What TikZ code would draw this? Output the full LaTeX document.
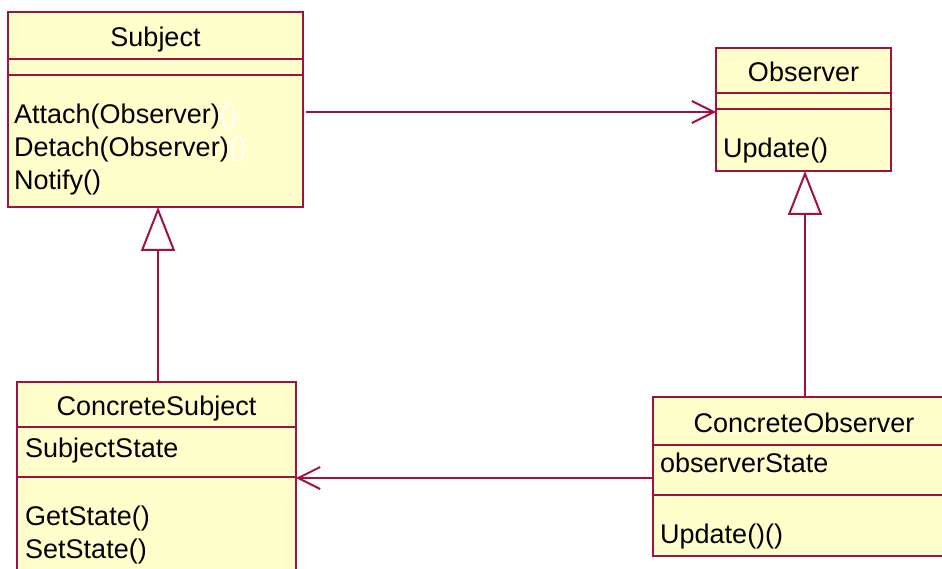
\documentclass[tikz,border=0pt]{standalone}
\usepackage{fontspec}
\setmainfont{Liberation Sans}
\usetikzlibrary{arrows.meta}
\definecolor{umlline}{RGB}{160,18,66}
\definecolor{umlfill}{RGB}{255,255,204}
\newcommand{\umlfont}{\fontsize{27}{32}\selectfont}
\tikzset{
  classbox/.style={draw=umlline, fill=umlfill, line width=2pt, inner sep=0pt, outer sep=0pt},
  divider/.style={draw=umlline, line width=2pt},
  member/.style={anchor=base west, inner sep=0pt, font=\umlfont},
  header/.style={anchor=base, inner sep=0pt, font=\umlfont},
  assoc/.style={draw=umlline, line width=2pt, -{Straight Barb[length=22pt,width=22pt]}},
  inherit/.style={draw=umlline, line width=2pt, -{Triangle[length=44pt,width=34pt,fill=white]}}
}
\begin{document}
\begin{tikzpicture}[x=1pt,y=-1pt]
\fill[white] (0,0) rectangle (942,569);
\clip (0,0) rectangle (942,569);

% Subject
\node[classbox, minimum width=295pt, minimum height=195pt] (subject) at (155.5,109.5) {};
\draw[divider] (subject.west |- 0,59) -- (subject.east |- 0,59);
\draw[divider] (subject.west |- 0,75) -- (subject.east |- 0,75);
\node[header] (subjectName) at (155.5,47) {Subject};
\node[member] (subjAttach) at (14,124) {Attach(Observer)\textcolor{white}{()}};
\node[member] (subjDetach) at (14,157) {Detach(Observer)\textcolor{white}{()}};
\node[member] (subjNotify) at (14,190) {Notify()};

% Observer
\node[classbox, minimum width=175pt, minimum height=123pt] (observer) at (803.5,109.5) {};
\draw[divider] (observer.west |- 0,93) -- (observer.east |- 0,93);
\draw[divider] (observer.west |- 0,109) -- (observer.east |- 0,109);
\node[header] (observerName) at (803.5,82) {Observer};
\node[member] (obsUpdate) at (723,158) {Update()};

% ConcreteSubject
\node[classbox, minimum width=279pt, minimum height=203pt] (csubj) at (156.5,483.5) {};
\draw[divider] (csubj.west |- 0,427) -- (csubj.east |- 0,427);
\draw[divider] (csubj.west |- 0,477) -- (csubj.east |- 0,477);
\node[header] (csubjName) at (156.5,415) {ConcreteSubject};
\node[member] (csubjState) at (25,457) {SubjectState};
\node[member] (csubjGet) at (25,525) {GetState()};
\node[member] (csubjSet) at (25,558) {SetState()};

% ConcreteObserver
\node[classbox, minimum width=302pt, minimum height=159pt] (cobs) at (804,476.5) {};
\draw[divider] (cobs.west |- 0,445) -- (cobs.east |- 0,445);
\draw[divider] (cobs.west |- 0,495) -- (cobs.east |- 0,495);
\node[header] (cobsName) at (804,432) {ConcreteObserver};
\node[member] (cobsState) at (660,472) {observerState};
\node[member] (cobsUpdate) at (660,543) {Update()()};

% connectors
\coordinate (obsIn) at (observer.west |- 0,112);
\coordinate (csubjIn) at (csubj.east |- 0,478);
\draw[assoc, shorten <=3pt] (subject.east |- obsIn) -- (obsIn);
\draw[assoc] (cobs.west |- csubjIn) -- (csubjIn);
\draw[inherit] (csubj.north -| 158,0) -- (subject.south -| 158,0);
\draw[inherit] (cobs.north -| 805,0) -- (observer.south -| 805,0);
\end{tikzpicture}
\end{document}
